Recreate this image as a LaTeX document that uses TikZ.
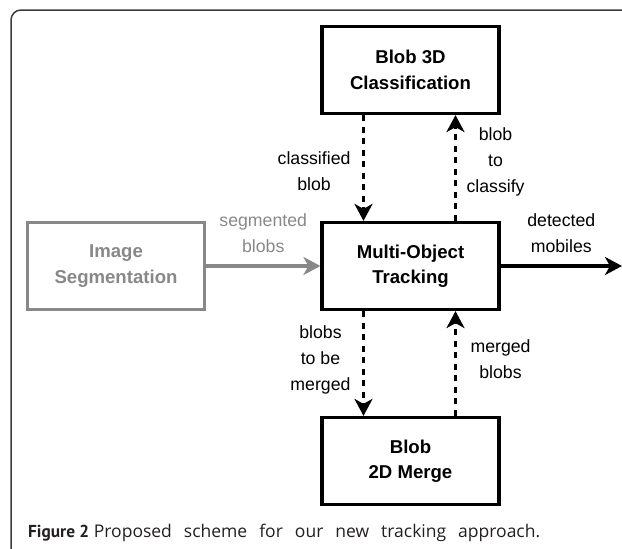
\documentclass[tikz,border=0pt]{standalone}
\usepackage{fontspec}
\setmainfont{Liberation Sans}
\newfontfamily\captionfont{PT Sans}
\newfontfamily\captiontext{Open Sans}
\usepackage{tikz}
\usetikzlibrary{arrows.meta}

\definecolor{segray}{RGB}{136,136,136}
\definecolor{framegray}{RGB}{60,60,60}
\definecolor{captiongray}{RGB}{35,31,32}

\begin{document}
\begin{tikzpicture}[
		x=1pt, y=-1pt,
		node distance=195pt,
		block/.style={rectangle, draw=black, line width=3.2pt, minimum width=177pt, minimum height=87pt, align=center, font=\fontsize{18.6}{25.5}\selectfont\bfseries},
		lbl/.style={align=center, font=\fontsize{17.7}{26}\selectfont},
		flow/.style={line width=3.4pt, dash pattern=on 6pt off 5.5pt, -{Stealth[length=17pt,width=18pt,inset=5pt]}},
		outflow/.style={line width=3.2pt, -{Stealth[length=17pt,width=18pt,inset=5pt]}}
	]
		\useasboundingbox (0,0) rectangle (622,549);
		\draw[framegray, line width=1.5pt, rounded corners=10pt] (11,549) -- (11,10) -- (622,10);

		\node[block](mot) at (410.5,266){Multi-Object\\Tracking};
		\node[block](blob3d)[above of=mot,yshift=1pt]{Blob 3D\\Classification};
		\node[block](blob2d)[below of=mot]{Blob\\2D Merge};
		\node[block,draw=segray,text=segray](seg)[left of=mot,xshift=-99.5pt]{Image\\Segmentation};
		\coordinate (out) at (622,266);

		\draw[flow]([xshift=-47pt]blob3d.south) -- ([xshift=-47pt]mot.north)
			node[lbl,midway,left=8pt,yshift=-3pt]{classified\\blob};
		\draw[flow]([xshift=45pt]mot.north) -- ([xshift=45pt]blob3d.south)
			node[lbl,midway,right=6pt,yshift=6pt]{blob\\to\\classify};
		\draw[flow]([xshift=-47pt]mot.south) -- ([xshift=-47pt]blob2d.north)
			node[lbl,midway,left=8pt,yshift=4pt]{blobs\\to be\\merged};
		\draw[flow]([xshift=45pt]blob2d.north) -- ([xshift=45pt]mot.south)
			node[lbl,midway,right=10pt,yshift=4pt]{merged\\blobs};
		\draw[outflow,segray](seg) -- (mot)
			node[lbl,text=segray,midway,above=8pt]{segmented\\blobs};
		\draw[outflow](mot) -- (out)
			node[lbl,midway,above=8pt]{detected\\mobiles};

		\node[anchor=west,text=captiongray,font=\captionfont\fontsize{17.3}{20}\selectfont,inner sep=0pt](caption) at (28,533){\textbf{Figure 2} {\captiontext\fontsize{17.5}{20}\selectfont\spaceskip=12pt Proposed scheme for our new tracking approach.}};
	\end{tikzpicture}
\end{document}
